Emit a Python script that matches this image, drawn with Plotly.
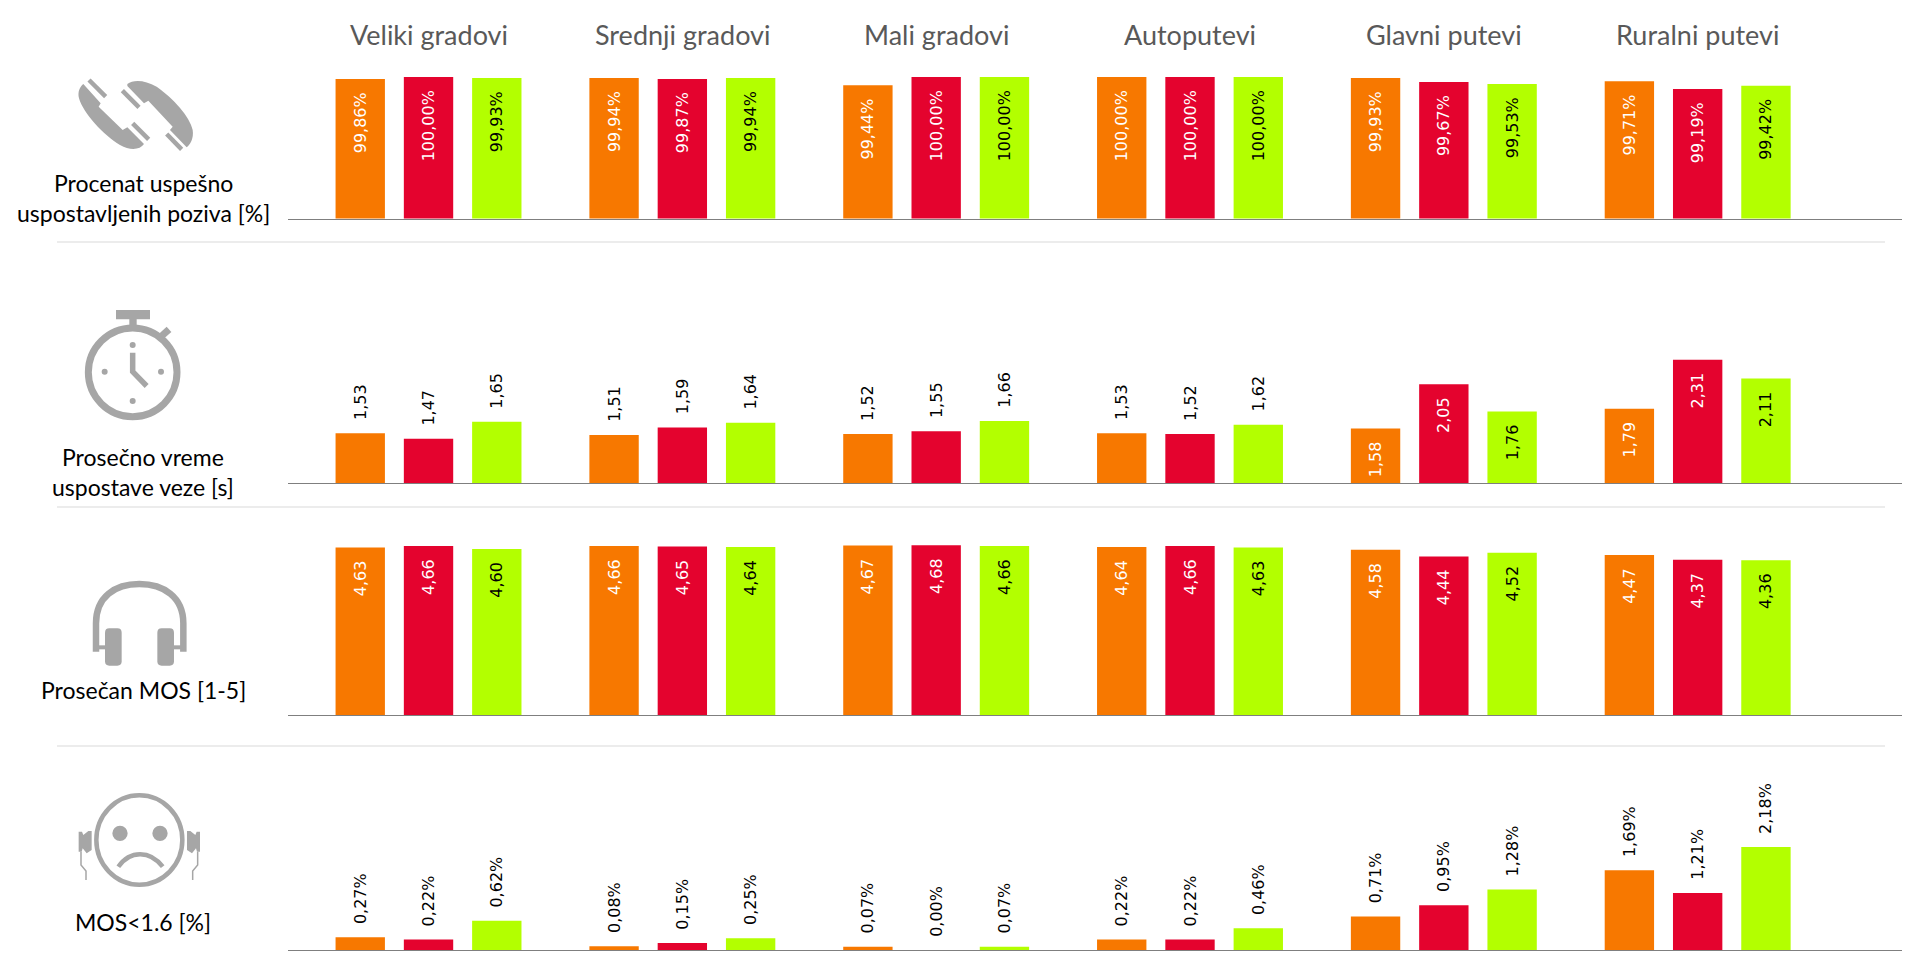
import re
import plotly.graph_objects as go

W, H = 1912, 975

categories = ["Veliki gradovi", "Srednji gradovi", "Mali gradovi", "Autoputevi", "Glavni putevi", "Ruralni putevi"]

call_orange = [99.86, 99.94, 99.44, 100.00, 99.93, 99.71]
call_red = [100.00, 99.87, 100.00, 100.00, 99.67, 99.19]
call_green = [99.93, 99.94, 100.00, 100.00, 99.53, 99.42]

setup_orange = [1.53, 1.51, 1.52, 1.53, 1.58, 1.79]
setup_red = [1.47, 1.59, 1.55, 1.52, 2.05, 2.31]
setup_green = [1.65, 1.64, 1.66, 1.62, 1.76, 2.11]

mos_orange = [4.63, 4.66, 4.67, 4.64, 4.58, 4.47]
mos_red = [4.66, 4.65, 4.68, 4.66, 4.44, 4.37]
mos_green = [4.60, 4.64, 4.66, 4.63, 4.52, 4.36]

bad_orange = [0.27, 0.08, 0.07, 0.22, 0.71, 1.69]
bad_red = [0.22, 0.15, 0.00, 0.22, 0.95, 1.21]
bad_green = [0.62, 0.25, 0.07, 0.46, 1.28, 2.18]

ORANGE, RED, GREEN = "#F77800", "#E4032E", "#B3FF00"
GREY = "#A6A6A6"
SERIES_STYLE = [(ORANGE, "#FFFFFF"), (RED, "#FFFFFF"), (GREEN, "#000000")]
PAD = "\u00a0\u00a0"


def fx(px):
    return px / W


def fy(py):
    return 1 - py / H


# one entry per row: values, suffix, y range, baseline px, top px, which groups are labelled inside
rows = [
    dict(series=[call_orange, call_red, call_green], suffix="%", rng=[90.5, 100.0], base=218.5, top=77, inside=[True] * 6),
    dict(series=[setup_orange, setup_red, setup_green], suffix="", rng=[1.0, 3.476], base=483, top=250, inside=[False] * 4 + [True] * 2),
    dict(series=[mos_orange, mos_red, mos_green], suffix="", rng=[1.09, 5.0], base=715, top=530, inside=[True] * 6),
    dict(series=[bad_orange, bad_red, bad_green], suffix="%", rng=[0.0, 3.39], base=950, top=790, inside=[False] * 6),
]

fig = go.Figure()
layout = {}
for r, row in enumerate(rows):
    n = "" if r == 0 else str(r + 1)
    for s, values in enumerate(row["series"]):
        bar_col, in_col = SERIES_STYLE[s]
        labels, pos, cols = [], [], []
        for v, ins in zip(values, row["inside"]):
            t = f"{v:.2f}".replace(".", ",") + row["suffix"]
            labels.append(t + PAD if ins else PAD + t)
            pos.append("inside" if ins else "outside")
            cols.append(in_col if ins else "#000000")
        fig.add_trace(go.Bar(
            x=categories, y=values, name=f"Serija {s + 1}", xaxis="x" + n, yaxis="y" + n,
            marker=dict(color=bar_col, line=dict(width=0)),
            text=labels, textposition=pos, textangle=-90, insidetextanchor="end",
            textfont=dict(family="DejaVu Sans", size=16, color=cols),
            constraintext="none", cliponaxis=False, showlegend=False,
        ))
    layout["xaxis" + n] = dict(
        domain=[fx(288), fx(1902)], range=[-0.5536, 5.805], type="category", anchor="y" + n,
        categoryorder="array", categoryarray=categories,
        showticklabels=False, ticks="", showgrid=False, zeroline=False,
        showline=True, linecolor="#7F7F7F", linewidth=1, fixedrange=True,
    )
    layout["yaxis" + n] = dict(
        domain=[fy(row["base"]), fy(row["top"])], range=row["rng"], anchor="x" + n,
        visible=False, fixedrange=True,
    )


# ---------- icons: outlines traced in crop pixels at 3x, mapped to paper space ----------
def path(ox, oy, d):
    i = 0

    def sub(m):
        nonlocal i
        v = float(m.group())
        i += 1
        return f"{fx(ox + v / 3):.5f}" if i % 2 == 1 else f"{fy(oy + v / 3):.5f}"

    return re.sub(r"-?\d+\.?\d*", sub, d)


def fill(ox, oy, d):
    return dict(type="path", xref="paper", yref="paper", path=path(ox, oy, d),
                fillcolor=GREY, line=dict(width=0), layer="above")


def stroke(ox, oy, d, w):
    return dict(type="path", xref="paper", yref="paper", path=path(ox, oy, d),
                fillcolor="rgba(0,0,0,0)", line=dict(color=GREY, width=w), layer="above")


def oval(ox, oy, cx, cy, rx, ry, w=0, solid=True):
    return dict(type="circle", xref="paper", yref="paper",
                x0=fx(ox + (cx - rx) / 3), x1=fx(ox + (cx + rx) / 3),
                y0=fy(oy + (cy + ry) / 3), y1=fy(oy + (cy - ry) / 3),
                fillcolor=GREY if solid else "rgba(0,0,0,0)",
                line=dict(color=GREY, width=w), layer="above")


shapes = []

# phone
o = (70, 70)
shapes += [
    fill(*o, "M 40,42 L 92,100 L 86,110 L 158,180 L 172,172 L 222,222 C 210,240 180,242 150,225 C 100,195 40,130 27,85 C 22,65 30,50 40,42 Z"),
    fill(*o, "M 172,42 C 190,28 225,30 260,50 C 310,85 360,140 368,180 C 372,205 360,225 350,232 L 300,180 L 308,170 L 235,92 L 222,100 L 172,48 Z"),
    stroke(*o, "M 57,30 L 107,80", 4.5),
    stroke(*o, "M 188,160 L 236,208", 4.5),
    stroke(*o, "M 157,62 L 207,112", 4.5),
    stroke(*o, "M 290,192 L 335,238", 4.5),
]

# stopwatch
o = (70, 300)
shapes += [
    oval(*o, 188, 217, 133, 133, w=7, solid=False),
    fill(*o, "M 138,30 L 240,30 L 240,58 L 200,58 L 200,80 L 178,80 L 178,58 L 138,58 Z"),
    stroke(*o, "M 275,108 L 297,88", 7),
    oval(*o, 188, 135, 9, 9),
    oval(*o, 104, 215, 9, 9),
    oval(*o, 273, 215, 9, 9),
    oval(*o, 188, 303, 9, 9),
    stroke(*o, "M 188,158 L 188,215 L 230,258", 5.5),
]

# headphones
o = (70, 570)
shapes += [
    stroke(*o, "M 78,245 L 78,160 C 78,80 135,42 208,42 C 280,42 340,80 340,160 L 340,245", 6.5),
    fill(*o, "M 118,175 L 142,175 Q 155,175 155,188 L 155,274 Q 155,287 142,287 L 118,287 Q 105,287 105,274 L 105,188 Q 105,175 118,175 Z"),
    fill(*o, "M 275,175 L 299,175 Q 312,175 312,188 L 312,274 Q 312,287 299,287 L 275,287 Q 262,287 262,274 L 262,188 Q 262,175 275,175 Z"),
    stroke(*o, "M 85,232 L 105,232", 4),
    stroke(*o, "M 312,232 L 335,232", 4),
]

# sad face with earphones
o = (70, 785)
shapes += [
    oval(*o, 208, 165, 129, 134, w=4.5, solid=False),
    oval(*o, 150, 145, 23, 23),
    oval(*o, 270, 145, 23, 23),
    stroke(*o, "M 145,245 C 180,195 240,195 278,245", 4.5),
    fill(*o, "M 26,140 L 36,140 L 40,150 L 55,138 L 65,138 L 65,195 L 50,205 L 38,190 L 35,200 L 26,200 Z"),
    fill(*o, "M 390,140 L 380,140 L 376,150 L 361,138 L 351,138 L 351,195 L 366,205 L 378,190 L 381,200 L 390,200 Z"),
    stroke(*o, "M 33,200 L 33,240 L 48,258 L 48,285", 1.5),
    stroke(*o, "M 383,200 L 383,240 L 368,258 L 368,285", 1.5),
]

# panel separators
for y in [242, 507, 746]:
    shapes.append(dict(type="line", xref="paper", yref="paper", x0=fx(57), x1=fx(1885),
                       y0=fy(y), y1=fy(y), line=dict(color="#D9D9D9", width=1)))

# ---------- text ----------
annotations = []
for c in categories:
    annotations.append(dict(text=c, x=c, xref="x", y=fy(35), yref="paper", showarrow=False,
                            xanchor="center", yanchor="middle",
                            font=dict(family="Lato", size=27, color="#595959")))

row_labels = [
    ("Procenat uspešno", 183), ("uspostavljenih poziva [%]", 213),
    ("Prosečno vreme", 457), ("uspostave veze [s]", 487),
    ("Prosečan MOS [1-5]", 690),
    ("MOS&lt;1.6 [%]", 922),
]
for t, y in row_labels:
    annotations.append(dict(text=t, x=fx(143), xref="paper", y=fy(y), yref="paper", showarrow=False,
                            xanchor="center", yanchor="middle",
                            font=dict(family="Lato", size=23, color="#000000")))

fig.update_layout(
    width=W, height=H, margin=dict(l=0, r=0, t=0, b=0), autosize=False,
    paper_bgcolor="#FFFFFF", plot_bgcolor="rgba(0,0,0,0)",
    barmode="group", bargap=0.193, bargroupgap=0.277, showlegend=False,
    shapes=shapes, annotations=annotations, **layout,
)

fig.write_html("out.html", config={"displayModeBar": False},
               post_script="document.body.style.margin='0';document.body.style.overflow='hidden';")
